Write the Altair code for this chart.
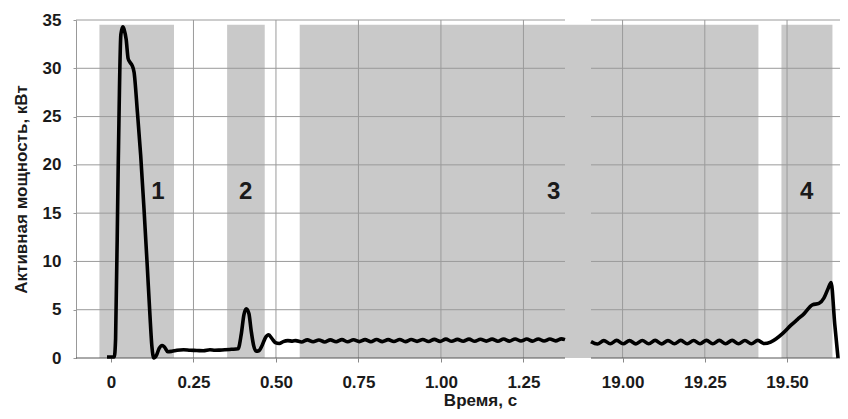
import altair as alt
import pandas as pd

# ---- curve, left part (0 .. 1.376 s) ----
time_a = [-0.012, 0.010, 0.014, 0.022, 0.030, 0.036, 0.040, 0.046, 0.052, 0.058,
          0.064, 0.070, 0.080, 0.090, 0.100, 0.110, 0.118, 0.124, 0.130, 0.138,
          0.146, 0.155, 0.163, 0.172, 0.185, 0.200, 0.220, 0.240, 0.260, 0.280,
          0.300, 0.315, 0.330, 0.345, 0.365, 0.385, 0.395, 0.403, 0.410, 0.418,
          0.425, 0.433, 0.440, 0.448, 0.458, 0.468, 0.478, 0.488, 0.498, 0.510,
          0.522, 0.536, 0.550,
          0.560, 0.5775, 0.595, 0.6125, 0.630, 0.6475, 0.665, 0.6825, 0.700, 0.7175,
          0.735, 0.7525, 0.770, 0.7875, 0.805, 0.8225, 0.840, 0.8575, 0.875, 0.8925,
          0.910, 0.9275, 0.945, 0.9625, 0.980, 0.9975, 1.015, 1.0325, 1.050, 1.0675,
          1.085, 1.1025, 1.120, 1.1375, 1.155, 1.1725, 1.190, 1.2075, 1.225, 1.2425,
          1.260, 1.2775, 1.295, 1.3125, 1.330, 1.3475, 1.365, 1.376]
power_a = [0.1, 0.1, 2.0, 20.0, 33.5, 34.3, 34.0, 33.0, 31.0, 30.6,
           30.3, 29.6, 25.5, 21.0, 15.5, 9.5, 4.5, 1.2, 0.0, 0.3,
           1.0, 1.3, 1.1, 0.65, 0.7, 0.8, 0.85, 0.8, 0.78, 0.75,
           0.85, 0.8, 0.82, 0.85, 0.9, 0.95, 2.5, 4.5, 5.1, 4.6,
           2.8, 1.2, 0.7, 0.75, 1.3, 2.1, 2.4, 2.0, 1.6, 1.5,
           1.7, 1.8, 1.75,
           1.80, 1.66, 1.88, 1.68, 1.87, 1.66, 1.88, 1.69, 1.90, 1.68,
           1.89, 1.70, 1.90, 1.69, 1.91, 1.70, 1.90, 1.71, 1.92, 1.70,
           1.91, 1.72, 1.92, 1.71, 1.93, 1.72, 1.95, 1.73, 1.93, 1.74,
           1.95, 1.73, 1.94, 1.75, 1.95, 1.74, 1.96, 1.75, 1.97, 1.76,
           1.96, 1.75, 1.97, 1.76, 1.96, 1.77, 1.98, 1.90]

# ---- curve, right part (18.9 .. 19.66 s) ----
time_b = [18.904, 18.9235, 18.943, 18.9625, 18.982, 19.0015, 19.021, 19.0405, 19.060, 19.0795,
          19.099, 19.1185, 19.138, 19.1575, 19.177, 19.1965, 19.216, 19.2355, 19.255, 19.2745,
          19.294, 19.3135, 19.333, 19.3525, 19.372, 19.3915, 19.411, 19.4305, 19.450,
          19.467, 19.487, 19.512, 19.532, 19.552, 19.577, 19.597, 19.612, 19.625, 19.634,
          19.645, 19.655]
power_b = [1.70, 1.45, 1.80, 1.48, 1.82, 1.47, 1.80, 1.46, 1.81, 1.47,
           1.82, 1.46, 1.80, 1.48, 1.82, 1.47, 1.81, 1.48, 1.83, 1.47,
           1.82, 1.48, 1.83, 1.47, 1.81, 1.48, 1.82, 1.50, 1.65,
           2.0, 2.55, 3.4, 4.0, 4.6, 5.5, 5.65, 6.2, 7.2, 7.8,
           3.5, 0.0]

# ---- shaded stages ----
zone_start = [-0.035, 0.352, 0.572, 19.483]
zone_end = [0.191, 0.466, 19.413, 19.638]
zone_top = [34.5, 34.5, 34.5, 34.5]
zone_label = ["1", "2", "3", "4"]
label_time = [0.142, 0.408, 1.342, 19.56]
label_power = [17.2, 17.2, 17.2, 17.2]

# ---- axes ----
x_ticks = [0, 0.25, 0.5, 0.75, 1.0, 1.25, 19.0, 19.25, 19.5]
y_ticks = [0, 5, 10, 15, 20, 25, 30, 35]
panel_a = [-0.106, 1.376]
panel_b = [18.904, 19.661]

FONT = "Liberation Sans"

curve = pd.DataFrame({
    "t": time_a + time_b,
    "p": power_a + power_b,
    "seg": ["a"] * len(time_a) + ["b"] * len(time_b),
})
zones = pd.DataFrame({"t": zone_start, "t2": zone_end, "p": [0] * 4, "p2": zone_top})
labels = pd.DataFrame({"t": label_time, "p": label_power, "txt": zone_label})
hgrid = pd.DataFrame({
    "t": [panel_a[0]] * len(y_ticks) + [panel_b[0]] * len(y_ticks),
    "t2": [panel_a[1]] * len(y_ticks) + [panel_b[1]] * len(y_ticks),
    "p": y_ticks + y_ticks,
})
vgrid = pd.DataFrame({"t": [v for v in x_ticks if v != 0], "p": 0, "p2": 35})

xs = alt.Scale(domain=[panel_a[0], panel_a[1], panel_b[0], panel_b[1]],
               range=[0, 489, 515, 764], nice=False, zero=False)
ys = alt.Scale(domain=[0, 35], nice=False, zero=True)

xa = alt.Axis(values=x_ticks, grid=False, domain=False, ticks=True, tickSize=4,
              tickColor="#888888", labelFont=FONT, labelFontWeight="bold",
              labelFontSize=17, labelColor="#1a1a1a", labelPadding=12,
              labelExpr="datum.value == 0 ? '0' : format(datum.value, '.2f')",
              title="Время, с", titleFont=FONT, titleFontWeight="bold",
              titleFontSize=17, titleColor="#1a1a1a", titleX=404, titleY=47,
              titleBaseline="alphabetic", titleAlign="center", labelFlush=False)
ya = alt.Axis(values=y_ticks, grid=False, domain=True, domainColor="#999999",
              ticks=True, tickSize=3, tickColor="#999999", labelFont=FONT,
              labelFontWeight="bold", labelFontSize=17, labelColor="#1a1a1a",
              labelPadding=12, title="Активная мощность, кВт", titleFont=FONT,
              titleFontWeight="bold", titleFontSize=17, titleColor="#1a1a1a",
              titleX=-50, titleY=169, titleBaseline="alphabetic", titleAlign="center",
              labelFlush=False)

X = lambda f="t": alt.X(f"{f}:Q", scale=xs, axis=xa)
Y = lambda f="p": alt.Y(f"{f}:Q", scale=ys, axis=ya)

rects = alt.Chart(zones).mark_rect(color="#c9c9c9").encode(
    x=X(), x2="t2:Q", y=Y(), y2="p2:Q")
vlines = alt.Chart(vgrid).mark_rule(color="#9a9a9a", strokeWidth=1).encode(
    x=X(), y=Y(), y2="p2:Q")
hlines = alt.Chart(hgrid).mark_rule(strokeWidth=1).encode(
    x=X(), x2="t2:Q", y=Y(),
    color=alt.condition("datum.p == 0", alt.value("#555555"), alt.value("#9a9a9a")))
line = alt.Chart(curve).mark_line(color="#000000", strokeWidth=3.6,
                                  interpolate="monotone", strokeJoin="round").encode(
    x=X(), y=Y(), detail="seg:N")
text = alt.Chart(labels).mark_text(font=FONT, fontWeight="bold", fontSize=24,
                                   color="#1a1a1a", baseline="middle").encode(
    x=X(), y=Y(), text="txt:N")

chart = alt.layer(rects, vlines, hlines, line, text).properties(
    width=764, height=338,
    autosize=alt.AutoSizeParams(type="none"),
    padding={"left": 68, "top": 12, "right": 0, "bottom": 53},
).configure_view(stroke=None)

chart.save("out.html", embed_options={"renderer": "svg", "actions": False})
